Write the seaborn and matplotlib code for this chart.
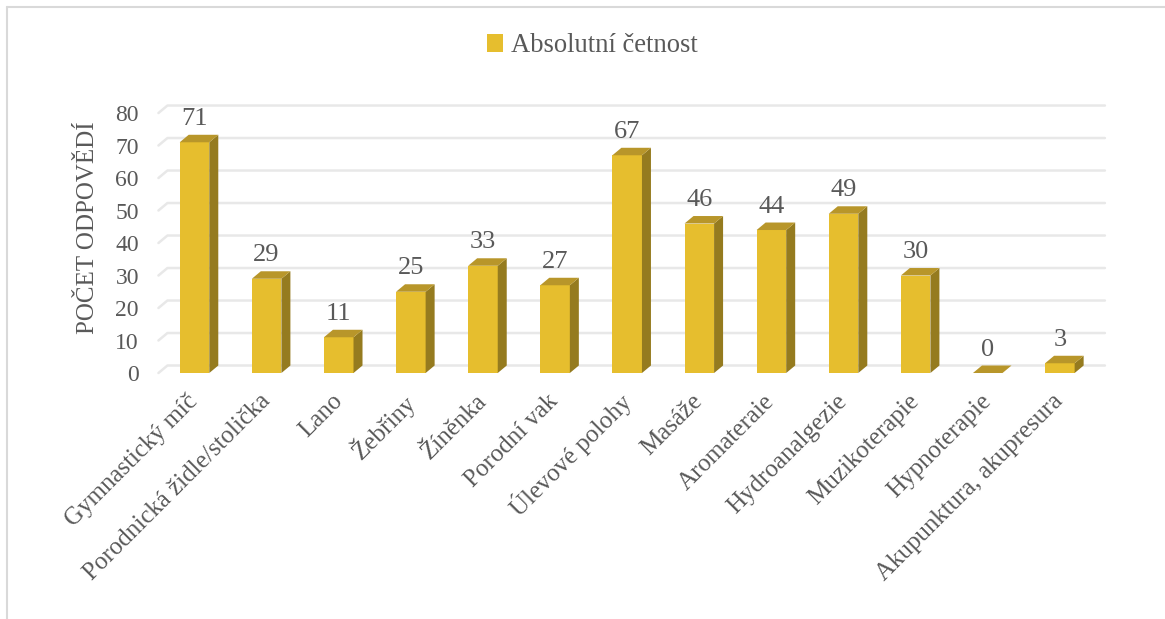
import numpy as np
import pandas as pd
import matplotlib
matplotlib.use("Agg")
import matplotlib.pyplot as plt
import seaborn as sns
from matplotlib.patches import Polygon, Patch
from matplotlib.lines import Line2D

# ---- data -------------------------------------------------------------
categories = [
    "Gymnastický míč", "Porodnická židle/stolička", "Lano", "Žebřiny",
    "Žíněnka", "Porodní vak", "Úlevové polohy", "Masáže", "Aromateraie",
    "Hydroanalgezie", "Muzikoterapie", "Hypnoterapie", "Akupunktura, akupresura",
]
counts = [71, 29, 11, 25, 33, 27, 67, 46, 44, 49, 30, 0, 3]
y_ticks = [0, 10, 20, 30, 40, 50, 60, 70, 80]
series_name = "Absolutní četnost"
y_title = "POČET ODPOVĚDÍ"

# ---- styling ----------------------------------------------------------
sns.set_theme(style="white")
plt.rcParams["font.family"] = ["Liberation Serif", "DejaVu Serif"]
TEXT = "#595959"
FRONT = "#E6BE2E"
TOP = "#B8962A"
SIDE = "#957B1F"
GRID = "#E8E8E8"
DX_PX, DY_PX = 9.0, 7.5   # depth of the 3-D extrusion in pixels

DPI = 100
fig = plt.figure(figsize=(11.65, 6.19), dpi=DPI)
ax = fig.add_axes([0.136, 0.3974, 0.8047, 0.42])

df = pd.DataFrame({"kategorie": categories, "pocet": counts})
sns.barplot(data=df, x="kategorie", y="pocet", color=FRONT, width=0.41,
            saturation=1, ax=ax, zorder=3, linewidth=0)

ax.set_xlim(-0.5, len(categories) - 0.5)
ax.set_ylim(0, 80)
for s in ax.spines.values():
    s.set_visible(False)
ax.grid(False)

# pixel -> data conversion for the extrusion depth
fig.canvas.draw()
p0 = ax.transData.transform((0, 0))
p1 = ax.transData.transform((1, 10))
dx = DX_PX / (p1[0] - p0[0])
dy = DY_PX / ((p1[1] - p0[1]) / 10.0)

# back-wall gridlines with a short floor diagonal at the left
x_left, x_right = ax.get_xlim()
for v in y_ticks:
    ax.add_line(Line2D([x_left, x_left + dx, x_right + dx], [v, v + dy, v + dy],
                       color=GRID, lw=1.8, zorder=1, clip_on=False))

# extruded top and side faces for each bar
for bar, v in zip(ax.patches, counts):
    x0 = bar.get_x()
    x1 = x0 + bar.get_width()
    top = Polygon([(x0, v), (x1, v), (x1 + dx, v + dy), (x0 + dx, v + dy)],
                  closed=True, facecolor=TOP, edgecolor="none", zorder=4, clip_on=False)
    side = Polygon([(x1, 0), (x1, v), (x1 + dx, v + dy), (x1 + dx, dy)],
                   closed=True, facecolor=SIDE, edgecolor="none", zorder=4, clip_on=False)
    ax.add_patch(side)
    ax.add_patch(top)
    ax.annotate(f"{v}", xy=(x0 + bar.get_width() / 2, v), xytext=(0, 9),
                textcoords="offset points", ha="center", va="bottom",
                fontsize=19, color=TEXT, zorder=5)

# axes text
ax.set_yticks(y_ticks)
ax.tick_params(axis="y", length=0, pad=14, labelsize=17, labelcolor=TEXT)
ax.tick_params(axis="x", length=0, pad=18, labelsize=18, labelcolor=TEXT)
ax.set_xlabel("")
ax.set_ylabel(y_title, fontsize=18, color=TEXT)
ax.yaxis.set_label_coords(-0.063, 0.56)
ax.set_xticks(range(len(categories)))
ax.set_xticklabels(categories, rotation=45, ha="right", va="center",
                   rotation_mode="anchor")

# legend at the top
handle = Patch(facecolor=FRONT, edgecolor="none")
fig.legend([handle], [series_name], loc="center", bbox_to_anchor=(0.5086, 0.9257),
           frameon=False, fontsize=19.2, labelcolor=TEXT, handlelength=0.62,
           handleheight=0.62, handletextpad=0.3)

# thin chart-area border (top and left edge)
fig.add_artist(Line2D([7 / 1165, 7 / 1165], [0, 1 - 7 / 619], transform=fig.transFigure,
                      color="#D9D9D9", lw=1.5))
fig.add_artist(Line2D([7 / 1165, 1], [1 - 7 / 619, 1 - 7 / 619], transform=fig.transFigure,
                      color="#D9D9D9", lw=1.5))

fig.savefig("out.png", dpi=DPI, facecolor="white")
